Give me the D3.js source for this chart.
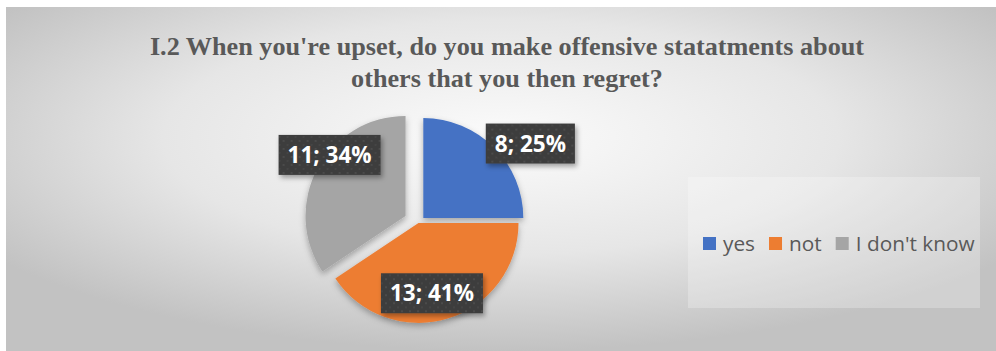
<!DOCTYPE html>
<html><head><meta charset="utf-8">
<script src="https://cdn.jsdelivr.net/npm/d3@7"></script>
<style>html,body{margin:0;padding:0;background:#fff;overflow:hidden} svg{display:block}</style>
</head><body><svg id="c" width="996" height="351"></svg>
<script>
// ---- data ----
const categories = ["yes", "not", "I don't know"];
const values = [8, 13, 11];
const titleLines = ["I.2 When you're upset, do you make offensive statatments about", "others that you then regret?"];
const colors = ["#4472C4", "#ED7D31", "#A5A5A5"];
// ---- layout ----
const explode = [6.8, 0, 14.7];
const labelNudge = [[54, -21.5], [-8.3, -1.4], [-9.8, -25.7]];

const svg = d3.select("#c");
const W = 996, H = 351;
const defs = svg.append("defs");

const bg = defs.append("radialGradient").attr("id", "bg")
  .attr("cx", "0.5").attr("cy", "0.38").attr("r", "0.62").attr("fx", "0.5").attr("fy", "0.38");
bg.append("stop").attr("offset", "0").attr("stop-color", "#fbfbfb");
bg.append("stop").attr("offset", "0.55").attr("stop-color", "#e6e6e6");
bg.append("stop").attr("offset", "1").attr("stop-color", "#c2c2c2");

const pat = defs.append("pattern").attr("id", "dots").attr("patternUnits", "userSpaceOnUse")
  .attr("width", 8).attr("height", 8);
pat.append("rect").attr("width", 8).attr("height", 8).attr("fill", "#3d3d3d");
pat.append("circle").attr("cx", 2).attr("cy", 2).attr("r", 1).attr("fill", "#4f4f4f");
pat.append("circle").attr("cx", 6).attr("cy", 6).attr("r", 1).attr("fill", "#474747");

const sh = defs.append("filter").attr("id", "shadow").attr("x", "-20%").attr("y", "-20%").attr("width", "150%").attr("height", "150%");
sh.append("feDropShadow").attr("dx", 2).attr("dy", 3).attr("stdDeviation", 2.5)
  .attr("flood-color", "#000").attr("flood-opacity", 0.35);

const sh2 = defs.append("filter").attr("id", "pshadow").attr("x", "-20%").attr("y", "-20%").attr("width", "150%").attr("height", "150%");
sh2.append("feDropShadow").attr("dx", 0).attr("dy", 3).attr("stdDeviation", 3)
  .attr("flood-color", "#000").attr("flood-opacity", 0.3);

// chart area
svg.append("rect").attr("x", 6).attr("y", 7).attr("width", W - 6).attr("height", H - 7)
  .attr("fill", "url(#bg)");

// title
svg.append("g").selectAll("text").data(titleLines).join("text")
  .attr("x", 507).attr("y", (d, i) => 55 + i * 32)
  .attr("text-anchor", "middle")
  .attr("font-family", "'Liberation Serif', 'Times New Roman', serif")
  .attr("font-weight", "bold").attr("font-size", 26.2).attr("fill", "#595959")
  .text(d => d);

// pie
const cx = 418.5, cy = 222.9, r = 100;
const total = d3.sum(values);
const pie = d3.pie().sort(null).value(d => d)(values);
const arc = d3.arc().innerRadius(0).outerRadius(r);
const labelArc = d3.arc().innerRadius(r * 0.75).outerRadius(r * 0.75);
const off = (d, i) => {
  const m = (d.startAngle + d.endAngle) / 2;
  return [Math.sin(m) * explode[i], -Math.cos(m) * explode[i]];
};
const gp = svg.append("g").attr("transform", `translate(${cx},${cy})`);
gp.selectAll("path").data(pie).join("path")
  .attr("transform", (d, i) => `translate(${off(d, i)})`)
  .attr("d", arc).attr("fill", (d, i) => colors[i])
  .attr("filter", "url(#pshadow)");

// labels
const fmt = d3.format(".0%");
const lg = gp.selectAll("g.lab").data(pie).join("g").attr("class", "lab")
  .attr("transform", (d, i) => {
    const o = off(d, i), c = labelArc.centroid(d);
    return `translate(${o[0] + c[0] + labelNudge[i][0]},${o[1] + c[1] + labelNudge[i][1]})`;
  });
lg.append("rect").attr("fill", "url(#dots)").attr("filter", "url(#shadow)");
const lt = lg.append("text").attr("text-anchor", "middle").attr("dy", "0.36em")
  .attr("font-family", "'Open Sans', sans-serif").attr("font-weight", "bold")
  .attr("font-size", 22.5).attr("fill", "#fff")
  .text(d => `${d.value}; ${fmt(d.value / total)}`);
lt.each(function () {
  const w = this.getComputedTextLength();
  d3.select(this.parentNode).select("rect")
    .attr("x", -w / 2 - 9).attr("y", -20).attr("width", w + 18).attr("height", 40);
});

// legend
svg.append("rect").attr("x", 688).attr("y", 177).attr("width", 292).attr("height", 131)
  .attr("fill", "#fff").attr("fill-opacity", 0.25);
const leg = svg.append("g");
let x = 703;
categories.forEach((c, i) => {
  leg.append("rect").attr("x", x).attr("y", 237).attr("width", 13).attr("height", 13).attr("fill", colors[i]);
  const t = leg.append("text").attr("x", x + 20).attr("y", 250.5)
    .attr("font-family", "'Open Sans', sans-serif").attr("font-size", 20.8).attr("fill", "#595959")
    .text(c);
  x += 20 + t.node().getComputedTextLength() + 14;
});
</script>
</body></html>
